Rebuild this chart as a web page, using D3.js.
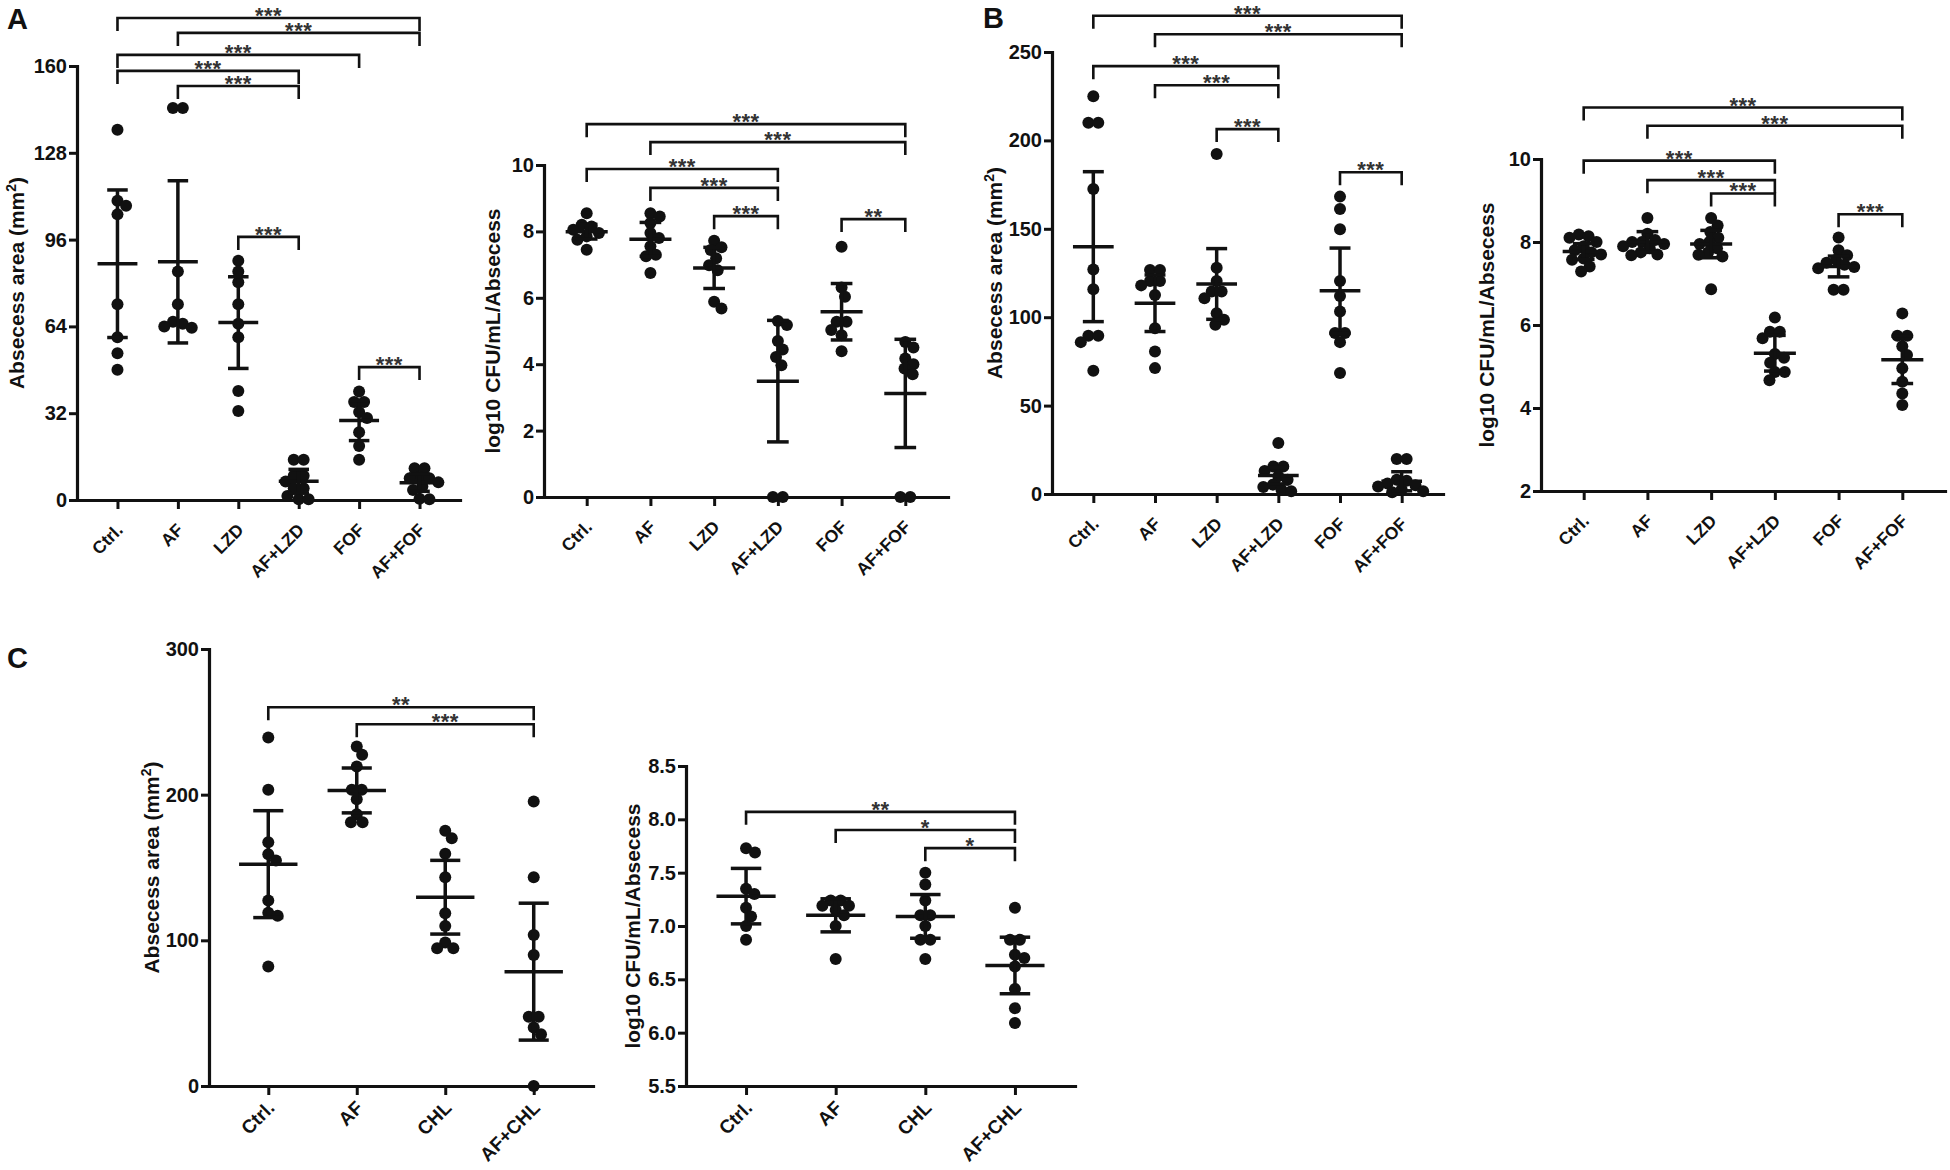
<!DOCTYPE html>
<html>
<head>
<meta charset="utf-8">
<script src="https://cdn.jsdelivr.net/npm/d3@7"></script>
<style>
  body { margin: 0; background: #fff; }
  svg { display: block; font-family: "Liberation Sans", Arial, sans-serif; }
</style>
</head>
<body>
<svg id="fig" width="1950" height="1170"></svg>
<script>
// group names
const groupsAB = ["Ctrl.", "AF", "LZD", "AF+LZD", "FOF", "AF+FOF"];
const groupsC = ["Ctrl.", "AF", "CHL", "AF+CHL"];

// panel A, abscess area
const aAreaPoints = [
  [136.5, 110.3, 108.5, 105.3, 72.2, 60.0, 54.1, 48.0],
  [144.5, 144.5, 84.2, 72.2, 65.7, 65.0, 64.0, 63.5],
  [88.2, 84.2, 80.3, 72.2, 65.0, 60.0, 40.2, 32.8],
  [14.8, 14.8, 8.9, 8.9, 6.8, 4.3, 4.3, 1.5, 0.3, 0.3],
  [40.0, 36.1, 36.1, 32.4, 30.2, 25.0, 19.9, 14.8],
  [11.7, 11.7, 8.5, 8.0, 8.0, 6.5, 5.0, 3.7, 0.5, 0.3],
];
const aAreaMean = [87.1, 87.8, 65.4, 6.9, 29.3, 6.4];
const aAreaSD = [27.2, 29.9, 16.9, 4.4, 7.4, 3.2];
const aAreaTicks = [0, 32, 64, 96, 128, 160];
// [from, to, label, height]
const aAreaBrackets = [
  [0, 5, "***", 177.7],
  [1, 5, "***", 172.2],
  [0, 4, "***", 164.1],
  [0, 3, "***", 158.2],
  [1, 3, "***", 152.6],
  [2, 3, "***", 97.0],
  [4, 5, "***", 49.0],
];

// panel A, bacterial load
const aCfuPoints = [
  [8.55, 8.2, 8.15, 8.05, 7.95, 7.85, 7.75, 7.45],
  [8.55, 8.45, 8.25, 7.95, 7.8, 7.55, 7.3, 7.25, 6.75],
  [7.72, 7.52, 7.44, 7.19, 6.98, 6.83, 5.88, 5.68],
  [5.3, 5.18, 4.7, 4.44, 4.22, 3.97, 0, 0],
  [7.54, 6.31, 6.03, 5.28, 5.28, 5.03, 4.87, 4.39],
  [4.67, 4.5, 4.17, 4.0, 3.87, 3.7, 0, 0],
];
const aCfuMean = [7.99, 7.76, 6.9, 3.49, 5.58, 3.12];
const aCfuSD = [0.22, 0.51, 0.62, 1.83, 0.85, 1.63];
const aCfuTicks = [0, 2, 4, 6, 8, 10];
const aCfuBrackets = [
  [0, 5, "***", 11.23],
  [1, 5, "***", 10.69],
  [0, 3, "***", 9.88],
  [1, 3, "***", 9.31],
  [2, 3, "***", 8.46],
  [4, 5, "**", 8.37],
];

// panel B, abscess area
const bAreaPoints = [
  [225, 210, 210, 172.5, 127, 115.8, 89.5, 89.5, 85.9, 69.7],
  [126.7, 126.7, 120.5, 120.5, 118, 112.6, 93.8, 80.6, 71.2],
  [192.3, 128, 120.5, 114.5, 114.5, 110.7, 102.3, 98.5, 95.7],
  [28.8, 15.6, 15.6, 13, 10, 8, 5.3, 4, 2.4, 1.5],
  [168.2, 161.2, 149.7, 120.5, 112, 103.2, 91, 91, 85.9, 68.4],
  [19.8, 19.8, 8, 7.5, 6, 5, 4.3, 2.5, 1.5, 1],
];
const bAreaMean = [139.9, 107.9, 118.8, 10.4, 115.0, 7.2];
const bAreaSD = [42.4, 16.0, 20.0, 4.7, 24.1, 5.4];
const bAreaTicks = [0, 50, 100, 150, 200, 250];
const bAreaBrackets = [
  [0, 5, "***", 270.5],
  [1, 5, "***", 260],
  [0, 3, "***", 242],
  [1, 3, "***", 231.2],
  [2, 3, "***", 206.4],
  [4, 5, "***", 182],
];

// panel B, bacterial load
const bCfuPoints = [
  [8.18, 8.14, 8.1, 8.0, 7.9, 7.8, 7.75, 7.7, 7.6, 7.57, 7.41, 7.29],
  [8.58, 8.2, 8.05, 8.0, 8.0, 7.95, 7.9, 7.85, 7.75, 7.7, 7.68],
  [8.58, 8.4, 8.24, 8.1, 8.0, 7.95, 7.85, 7.75, 7.69, 7.65, 6.86],
  [6.18, 5.84, 5.84, 5.68, 5.3, 5.21, 5.09, 4.87, 4.87, 4.67],
  [8.11, 7.8, 7.68, 7.57, 7.5, 7.45, 7.4, 7.37, 6.85, 6.85],
  [6.28, 5.74, 5.74, 5.49, 5.28, 4.96, 4.63, 4.35, 4.07],
];
const bCfuMean = [7.77, 8.0, 7.95, 5.32, 7.41, 5.16];
const bCfuSD = [0.19, 0.25, 0.33, 0.43, 0.25, 0.57];
const bCfuTicks = [2, 4, 6, 8, 10];
const bCfuBrackets = [
  [0, 5, "***", 11.24],
  [1, 5, "***", 10.8],
  [0, 3, "***", 9.96],
  [1, 3, "***", 9.49],
  [2, 3, "***", 9.17],
  [4, 5, "***", 8.67],
];

// panel C, abscess area
const cAreaPoints = [
  [239.3, 203.3, 167.4, 159.1, 154.8, 127.3, 119, 116.8, 82],
  [233.1, 227.4, 219.4, 203.3, 203.3, 196.9, 186.6, 181.1, 181.1],
  [175.2, 170.1, 159.4, 143.3, 118.6, 109.9, 98.5, 94.6, 94.6],
  [195.3, 143.3, 103.7, 90, 47.6, 47.6, 40.1, 35.5, 0],
];
const cAreaMean = [152.3, 202.9, 129.6, 78.5];
const cAreaSD = [36.7, 15.4, 25.3, 47.0];
const cAreaTicks = [0, 100, 200, 300];
const cAreaBrackets = [
  [0, 3, "**", 260],
  [1, 3, "***", 248.3],
];

// panel C, bacterial load
const cCfuPoints = [
  [7.73, 7.69, 7.35, 7.3, 7.17, 7.09, 7.0, 6.87],
  [7.24, 7.24, 7.19, 7.19, 7.15, 7.1, 7.0, 6.69],
  [7.5, 7.39, 7.24, 7.1, 7.1, 7.0, 6.87, 6.87, 6.69],
  [7.17, 6.87, 6.87, 6.73, 6.7, 6.62, 6.41, 6.23, 6.09],
];
const cCfuMean = [7.28, 7.1, 7.09, 6.63];
const cCfuSD = [0.26, 0.155, 0.205, 0.265];
const cCfuTicks = [5.5, 6.0, 6.5, 7.0, 7.5, 8.0, 8.5];
const cCfuBrackets = [
  [0, 3, "**", 8.07],
  [1, 3, "*", 7.9],
  [2, 3, "*", 7.73],
];

const svg = d3.select("#fig");
const dotR = 6;
const legLen = 13;

// spreads the dots of one group sideways so they do not sit on top of each other
function swarm(values, y, minDist) {
  const placed = [];
  const free = (c, py, skip) =>
    placed.every(
      (q) => skip.includes(q) || (c - q.dx) ** 2 + (py - q.py) ** 2 >= minDist * minDist - 0.01
    );
  values
    .map((v) => ({ v: v, py: y(v), dx: 0 }))
    .sort((a, b) => a.py - b.py)
    .forEach((p) => {
      const cands = [0];
      placed.forEach((q) => {
        const dy = p.py - q.py;
        if (Math.abs(dy) < minDist) {
          const dx = Math.sqrt(minDist * minDist - dy * dy);
          cands.push(q.dx + dx, q.dx - dx);
        }
      });
      cands.sort((a, b) => Math.abs(a) - Math.abs(b));
      for (const c of cands) {
        if (free(c, p.py, [])) {
          p.dx = c;
          break;
        }
      }
      placed.push(p);

      // dots with the same value sit in a row centred on the group
      const row = placed.filter((q) => Math.abs(q.py - p.py) < 3);
      if (row.length > 1) {
        const shift = -(d3.min(row, (q) => q.dx) + d3.max(row, (q) => q.dx)) / 2;
        if (row.every((q) => free(q.dx + shift, q.py, row))) {
          row.forEach((q) => (q.dx += shift));
        }
      }
    });
  return placed;
}

function drawChart(cfg) {
  const g = svg.append("g");

  const x = d3.scalePoint().domain(cfg.groups).range([cfg.x0, cfg.x1]).padding(0.67);
  const y = d3.scaleLinear().domain(cfg.domain).range([cfg.yBot, cfg.yTop]);
  const step = x.step();

  // y axis
  const yAxis = g
    .append("g")
    .attr("transform", "translate(" + cfg.x0 + ",0)")
    .call(
      d3.axisLeft(y)
        .tickValues(cfg.ticks)
        .tickFormat(cfg.fmt || d3.format("d"))
        .tickSize(8)
        .tickSizeOuter(0)
        .tickPadding(2)
    );

  // x axis
  const xAxis = g
    .append("g")
    .attr("transform", "translate(0," + cfg.yBot + ")")
    .call(d3.axisBottom(x).tickSize(9).tickSizeOuter(0).tickPadding(0));

  [yAxis, xAxis].forEach((a) => {
    a.select(".domain").attr("stroke", "#111").attr("stroke-width", 3.2).attr("stroke-linecap", "square");
    a.selectAll(".tick line").attr("stroke", "#111").attr("stroke-width", 3);
    a.selectAll(".tick text")
      .attr("fill", "#111")
      .style("font-size", "20px")
      .style("font-weight", "bold");
  });

  // rotated group names
  xAxis
    .selectAll(".tick text")
    .style("font-size", cfg.labelSize + "px")
    .attr("text-anchor", "end")
    .attr("transform", "translate(" + cfg.labelDx + "," + cfg.labelDy + ") rotate(-45)")
    .attr("dy", "0")
    .attr("y", 0);

  // axis title
  const title = g
    .append("text")
    .attr("transform", "translate(" + (cfg.x0 - cfg.titleOffset) + "," + (cfg.yTop + cfg.yBot) / 2 + ") rotate(-90)")
    .attr("text-anchor", "middle")
    .attr("dy", "0.35em")
    .attr("fill", "#111")
    .style("font-size", "21px")
    .style("font-weight", "bold");
  if (cfg.area) {
    title.append("tspan").text("Absecess area (mm");
    title.append("tspan").attr("dy", -8).style("font-size", "14px").text("2");
    title.append("tspan").attr("dy", 8).text(")");
  } else {
    title.text("log10 CFU/mL/Absecess");
  }

  // dots
  cfg.points.forEach((vals, i) => {
    const cx = x(cfg.groups[i]);
    g.append("g")
      .selectAll("circle")
      .data(swarm(vals, y, dotR * 1.65))
      .enter()
      .append("circle")
      .attr("cx", (d) => cx + d.dx)
      .attr("cy", (d) => d.py)
      .attr("r", dotR)
      .attr("fill", "#111");
  });

  // mean and SD bars
  const bars = g
    .selectAll(".bar")
    .data(cfg.means.map((m, i) => ({ m: m, sd: cfg.sds[i], cx: x(cfg.groups[i]) })))
    .enter()
    .append("g")
    .attr("stroke", "#111")
    .attr("stroke-width", 3.5);
  bars.append("line")
    .attr("x1", (d) => d.cx - step * 0.33)
    .attr("x2", (d) => d.cx + step * 0.33)
    .attr("y1", (d) => y(d.m))
    .attr("y2", (d) => y(d.m));
  bars.append("line")
    .attr("x1", (d) => d.cx)
    .attr("x2", (d) => d.cx)
    .attr("y1", (d) => y(d.m - d.sd))
    .attr("y2", (d) => y(d.m + d.sd));
  ["top", "bot"].forEach((k) => {
    bars.append("line")
      .attr("x1", (d) => d.cx - step * 0.17)
      .attr("x2", (d) => d.cx + step * 0.17)
      .attr("y1", (d) => y(k === "top" ? d.m + d.sd : d.m - d.sd))
      .attr("y2", (d) => y(k === "top" ? d.m + d.sd : d.m - d.sd));
  });

  // significance brackets
  cfg.brackets.forEach((b) => {
    const xa = x(cfg.groups[b[0]]);
    const xb = x(cfg.groups[b[1]]);
    const yy = y(b[3]);
    g.append("path")
      .attr("d", "M" + xa + "," + (yy + legLen) + "V" + yy + "H" + xb + "V" + (yy + legLen))
      .attr("fill", "none")
      .attr("stroke", "#111")
      .attr("stroke-width", 2.6);
    g.append("text")
      .attr("x", (xa + xb) / 2)
      .attr("y", yy + 5)
      .attr("text-anchor", "middle")
      .attr("fill", "#333")
      .style("font-size", "22px")
      .style("font-weight", "bold")
      .style("letter-spacing", "0.5px")
      .text(b[2]);
  });
}

const labelsAB = { labelSize: 17.5, labelDx: 6, labelDy: 31 };
const labelsC = { labelSize: 19, labelDx: 7, labelDy: 23 };

drawChart(Object.assign({ groups: groupsAB, points: aAreaPoints, means: aAreaMean, sds: aAreaSD,
  domain: [0, 160], ticks: aAreaTicks, x0: 77, x1: 460, yTop: 66, yBot: 500,
  area: true, titleOffset: 60, brackets: aAreaBrackets }, labelsAB));
drawChart(Object.assign({ groups: groupsAB, points: aCfuPoints, means: aCfuMean, sds: aCfuSD,
  domain: [0, 10], ticks: aCfuTicks, x0: 544, x1: 948, yTop: 165, yBot: 497,
  area: false, titleOffset: 51, brackets: aCfuBrackets }, labelsAB));
drawChart(Object.assign({ groups: groupsAB, points: bAreaPoints, means: bAreaMean, sds: bAreaSD,
  domain: [0, 250], ticks: bAreaTicks, x0: 1052, x1: 1443, yTop: 52, yBot: 494,
  area: true, titleOffset: 57, brackets: bAreaBrackets }, labelsAB));
drawChart(Object.assign({ groups: groupsAB, points: bCfuPoints, means: bCfuMean, sds: bCfuSD,
  domain: [2, 10], ticks: bCfuTicks, x0: 1541, x1: 1945, yTop: 159, yBot: 491,
  area: false, titleOffset: 54, brackets: bCfuBrackets }, labelsAB));
drawChart(Object.assign({ groups: groupsC, points: cAreaPoints, means: cAreaMean, sds: cAreaSD,
  domain: [0, 300], ticks: cAreaTicks, x0: 209, x1: 593, yTop: 649, yBot: 1086,
  area: true, titleOffset: 57, brackets: cAreaBrackets }, labelsC));
drawChart(Object.assign({ groups: groupsC, points: cCfuPoints, means: cCfuMean, sds: cCfuSD,
  domain: [5.5, 8.5], ticks: cCfuTicks, fmt: d3.format(".1f"), x0: 686, x1: 1075, yTop: 766, yBot: 1086,
  area: false, titleOffset: 53, brackets: cCfuBrackets }, labelsC));

// panel letters
[["A", 7, 29], ["B", 983, 28], ["C", 7, 668]].forEach((p) => {
  svg.append("text")
    .attr("x", p[1])
    .attr("y", p[2])
    .attr("fill", "#111")
    .style("font-size", "29px")
    .style("font-weight", "bold")
    .text(p[0]);
});
</script>
</body>
</html>
